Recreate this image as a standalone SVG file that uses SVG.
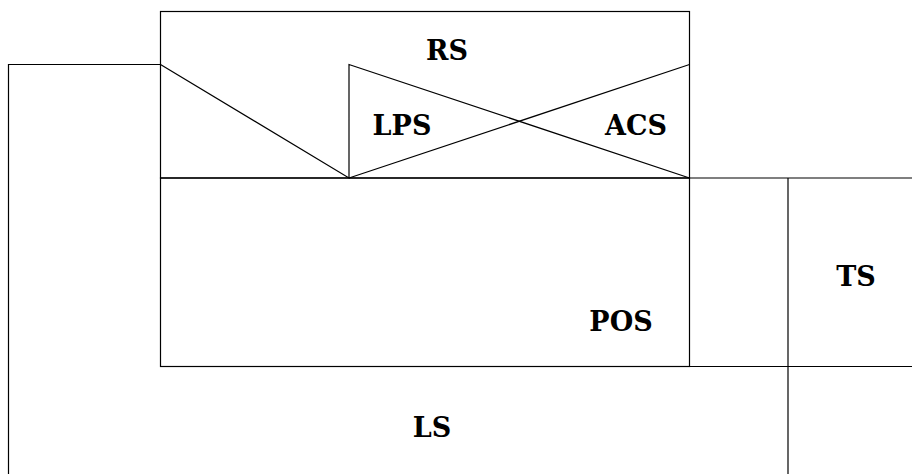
<svg xmlns="http://www.w3.org/2000/svg" width="912" height="474" viewBox="0 0 912 474">
<style>
.ln{fill:none;stroke:#000;stroke-width:1.2}
.lb{font-family:"DejaVu Serif","Liberation Serif",serif;font-weight:bold;font-size:27px;text-anchor:middle;fill:#000}
</style>
<rect width="912" height="474" fill="#fff"/>
<g id="LS">
<polyline class="ln" points="160.5,64.5 8.5,64.5 8.5,474"/>
<text class="lb" x="432" y="437">LS</text>
</g>
<g id="RS">
<rect class="ln" x="160.5" y="11.5" width="529" height="166.5"/>
<text class="lb" x="447" y="60">RS</text>
</g>
<g id="LPS">
<polyline class="ln" points="160.5,64.5 349,178 349,64.5 689.5,178"/>
<text class="lb" x="402" y="135">LPS</text>
</g>
<g id="ACS">
<line class="ln" x1="349" y1="178" x2="689.5" y2="64.5"/>
<text class="lb" x="636" y="135">ACS</text>
</g>
<g id="POS">
<rect class="ln" x="160.5" y="178" width="529" height="188.5"/>
<text class="lb" x="621" y="331">POS</text>
</g>
<g id="TS">
<polyline class="ln" points="689.5,178 912,178"/>
<polyline class="ln" points="689.5,366.5 912,366.5"/>
<line class="ln" x1="788" y1="178" x2="788" y2="474"/>
<text class="lb" x="856" y="286">TS</text>
</g>
<g id="connectors"></g>
</svg>
